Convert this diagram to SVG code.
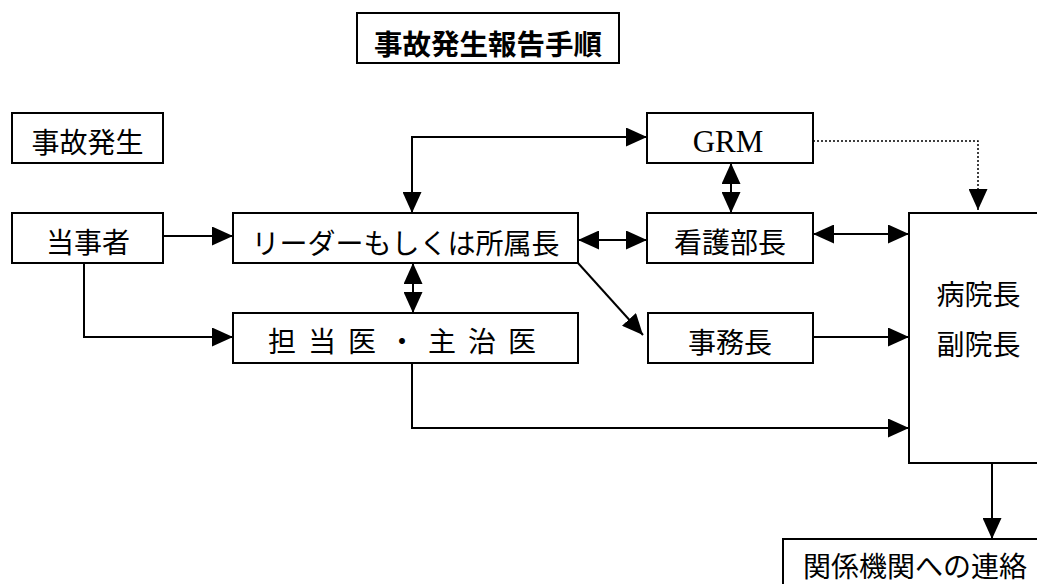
<svg xmlns="http://www.w3.org/2000/svg" width="1037" height="584" viewBox="0 0 1037 584">
<style>
.box{fill:#fff;stroke:#000;stroke-width:2}
.t{font-family:"Noto Sans CJK JP","Noto Sans CJK SC",sans-serif;font-size:28px;text-anchor:middle;dominant-baseline:central;fill:#000}
.title{font-weight:bold;font-size:28.5px}
.serif{font-family:"Liberation Serif",serif;font-size:31px;text-anchor:middle;fill:#000}
.c{fill:none;stroke:#000;stroke-width:2}
.one{marker-end:url(#ah)}
.two{marker-start:url(#ah);marker-end:url(#ah)}
.dot{stroke-dasharray:2 2;stroke-width:1.5}
</style>
<defs>
<marker id="ah" markerUnits="userSpaceOnUse" markerWidth="21" markerHeight="19" refX="21" refY="9.5" orient="auto-start-reverse" viewBox="0 0 21 19">
<path d="M0,0 L21,9.5 L0,19 z" fill="#000"/>
</marker>
</defs>
<rect width="1037" height="584" fill="#fff"/>
<g id="connectors">
<path class="c one" d="M160,236 H233"/>
<path class="c one" d="M84,263 V337 H233"/>
<path class="c two" d="M647,137 H412 V213"/>
<path class="c two" d="M578,240 H647"/>
<path class="c two" d="M731,163 V213"/>
<path class="c two" d="M813,234 H909"/>
<path class="c two" d="M413,263 V313"/>
<path class="c one" d="M578,263 L643,335"/>
<path class="c one" d="M813,337 H909"/>
<path class="c one" d="M412,363 V428 H909"/>
<path class="c dot one" d="M813,141 H978 V210"/>
<path class="c one" d="M992,463 V539"/>
</g>
<g id="title">
<rect class="box" x="357" y="13" width="262" height="50"/>
<text class="t title" x="488" y="42">事故発生報告手順</text>
</g>
<g id="jiko">
<rect class="box" x="12" y="113" width="151" height="50"/>
<text class="t" x="87.5" y="141">事故発生</text>
</g>
<g id="tojisha">
<rect class="box" x="12" y="213" width="151" height="50"/>
<text class="t" x="88" y="241">当事者</text>
</g>
<g id="leader">
<rect class="box" x="233" y="213" width="345" height="50"/>
<text class="t" x="405.5" y="242">リーダーもしくは所属長</text>
</g>
<g id="tantoi">
<rect class="box" x="233" y="313" width="345" height="50"/>
<text class="t" x="408" y="340" font-size="29" letter-spacing="12">担当医・主治医</text>
</g>
<g id="grm">
<rect class="box" x="647" y="113" width="166" height="50"/>
<text class="serif" x="728" y="152">GRM</text>
</g>
<g id="kango">
<rect class="box" x="647" y="213" width="166" height="50"/>
<text class="t" x="730" y="241">看護部長</text>
</g>
<g id="jimu">
<rect class="box" x="648" y="313" width="165" height="50"/>
<text class="t" x="730" y="341">事務長</text>
</g>
<g id="byoin">
<rect class="box" x="909" y="213" width="200" height="250"/>
<text class="t" x="978.5" y="293">病院長</text>
<text class="t" x="978.5" y="343">副院長</text>
</g>
<g id="renraku">
<rect class="box" x="783" y="539" width="300" height="100"/>
<text class="t" x="915" y="565">関係機関への連絡</text>
</g>
</svg>
